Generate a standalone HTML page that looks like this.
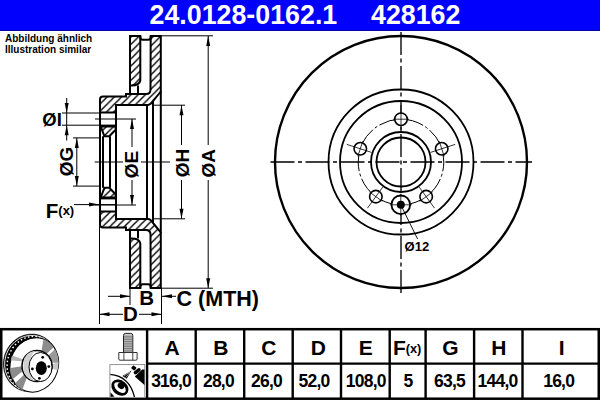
<!DOCTYPE html>
<html><head><meta charset="utf-8"><style>
html,body{margin:0;padding:0;background:#fff;}
#wrap{position:relative;width:600px;height:400px;overflow:hidden;background:#fff;}
#banner{position:absolute;left:0;top:0;width:600px;height:30px;background:#0000fc;border-bottom:1px solid #0000a8;}
.bt{position:absolute;top:1.3px;font-family:"Liberation Sans",sans-serif;font-weight:bold;color:#fff;font-size:26.8px;line-height:29px;white-space:nowrap;}
svg{position:absolute;left:0;top:0;}
</style></head><body><div id="wrap">
<div id="banner"></div>
<div class="bt" style="left:149.5px">24.0128-0162.1</div>
<div class="bt" style="left:371px">428162</div>
<svg width="600" height="400" viewBox="0 0 600 400">
<defs>
<pattern id="hatchA" patternUnits="userSpaceOnUse" width="7.2" height="7.2" patternTransform="translate(2.5,0)">
<path d="M-2,9.2 L9.2,-2" stroke="#000" stroke-width="1.4"/>
<path d="M-2,2 L2,-2 M5.2,9.2 L9.2,5.2" stroke="#000" stroke-width="1.4"/>
</pattern>
<pattern id="hatchB" patternUnits="userSpaceOnUse" width="7.2" height="7.2" patternTransform="translate(5.4,0)">
<path d="M-2,-2 L9.2,9.2" stroke="#000" stroke-width="1.4"/>
<path d="M5.2,-2 L9.2,2 M-2,5.2 L2,9.2" stroke="#000" stroke-width="1.4"/>
</pattern>
</defs>
<g><path d="M130,36 H140.3 V80.5 Q139.5,85.4 131.5,85.4 H130 Z" fill="url(#hatchA)" stroke="#000" stroke-width="2.0"/><path d="M130,85.4 V94 M138,85.4 V94" fill="none" stroke="#000" stroke-width="2.0"/><path d="M140.3,36 V37.3 Q140.3,39.8 142.8,39.8 H148.2 Q150.7,39.8 150.7,37.3 V36" fill="none" stroke="#000" stroke-width="2.0"/><path d="M150.7,36 H160.8 V91.5 Q158,95 153,101 Q150.5,104.9 148,104.9 H116 V112.5 H100 V99.5 Q100,96.5 103,96.5 H126 V94 H146 Q150.5,94 150.5,89.5 Z" fill="url(#hatchA)" stroke="#000" stroke-width="2.0"/><path d="M160.8,91 V162 M147,104.9 V162 M153,101 V162" fill="none" stroke="#000" stroke-width="2.0"/><path d="M116,104.9 V162 M100,99 V162" fill="none" stroke="#000" stroke-width="2.0"/><path d="M100,125.6 H116" fill="none" stroke="#000" stroke-width="2.0"/><path d="M100.8,126.6 H115.6 V129.8 L109.3,136.3 H104.4 Z" fill="url(#hatchA)" stroke="#000" stroke-width="2.0"/><path d="M103,136.3 V162 M110,136.3 V162" fill="none" stroke="#000" stroke-width="2.0"/></g><g transform="matrix(1,0,0,-1,0,324.0)"><path d="M130,36 H140.3 V80.5 Q139.5,85.4 131.5,85.4 H130 Z" fill="url(#hatchB)" stroke="#000" stroke-width="2.0"/><path d="M130,85.4 V94 M138,85.4 V94" fill="none" stroke="#000" stroke-width="2.0"/><path d="M140.3,36 V37.3 Q140.3,39.8 142.8,39.8 H148.2 Q150.7,39.8 150.7,37.3 V36" fill="none" stroke="#000" stroke-width="2.0"/><path d="M150.7,36 H160.8 V91.5 Q158,95 153,101 Q150.5,104.9 148,104.9 H116 V112.5 H100 V99.5 Q100,96.5 103,96.5 H126 V94 H146 Q150.5,94 150.5,89.5 Z" fill="url(#hatchB)" stroke="#000" stroke-width="2.0"/><path d="M160.8,91 V162 M147,104.9 V162 M153,101 V162" fill="none" stroke="#000" stroke-width="2.0"/><path d="M116,104.9 V162 M100,99 V162" fill="none" stroke="#000" stroke-width="2.0"/><path d="M100,125.6 H116" fill="none" stroke="#000" stroke-width="2.0"/><path d="M100.8,126.6 H115.6 V129.8 L109.3,136.3 H104.4 Z" fill="url(#hatchB)" stroke="#000" stroke-width="2.0"/><path d="M103,136.3 V162 M110,136.3 V162" fill="none" stroke="#000" stroke-width="2.0"/></g><path d="M161,35.8 H213 M161,288.2 H213" stroke="#000" stroke-width="1.0" fill="none"/><path d="M208.2,36 V145 M208.2,180 V288" stroke="#000" stroke-width="1.0" fill="none"/><polygon points="208.2,36 206.2,46 210.2,46" fill="#000"/><polygon points="208.2,288.2 206.2,278.2 210.2,278.2" fill="#000"/><path d="M153,105.2 H185 M153,218.8 H185" stroke="#000" stroke-width="1.0" fill="none"/><path d="M181.5,105.2 V145 M181.5,180 V218.8" stroke="#000" stroke-width="1.0" fill="none"/><polygon points="181.5,105.2 179.5,115.2 183.5,115.2" fill="#000"/><polygon points="181.5,218.8 179.5,208.8 183.5,208.8" fill="#000"/><path d="M95,119 H136 M95,205.0 H136" stroke="#000" stroke-width="1.0" fill="none"/><path d="M132,119 V147 M132,180 V205.0" stroke="#000" stroke-width="1.0" fill="none"/><polygon points="132,119 130.0,129 134.0,129" fill="#000"/><polygon points="132,205.0 130.0,195.0 134.0,195.0" fill="#000"/><path d="M73,137.9 H99 M73,186.1 H99" stroke="#000" stroke-width="1.0" fill="none"/><path d="M76.8,137.9 V186.1" stroke="#000" stroke-width="1.0" fill="none"/><polygon points="76.8,137.9 74.8,147.9 78.8,147.9" fill="#000"/><polygon points="76.8,186.1 74.8,176.1 78.8,176.1" fill="#000"/><path d="M62,113 H99 M62,125.2 H99" stroke="#000" stroke-width="1.0" fill="none"/><path d="M66.7,98 V140.5" stroke="#000" stroke-width="1.0" fill="none"/><polygon points="66.7,113 64.7,103 68.7,103" fill="#000"/><polygon points="66.7,125.2 64.7,135.2 68.7,135.2" fill="#000"/><path d="M74,204.6 H116" stroke="#000" stroke-width="1.0" fill="none"/><polygon points="99,204.6 89,202.6 89,206.6" fill="#000"/><path d="M94.7,162 H124 M141,162 H170" stroke="#000" stroke-width="1.0" fill="none"/><path d="M99.5,226 V324 M161.5,288 V324 M130,288 V305" stroke="#000" stroke-width="1.0" fill="none"/><path d="M99.5,314.3 H123 M139,314.3 H161.5" stroke="#000" stroke-width="1.0" fill="none"/><polygon points="99.5,314.3 109.5,312.3 109.5,316.3" fill="#000"/><polygon points="161.5,314.3 151.5,312.3 151.5,316.3" fill="#000"/><path d="M108,296.3 H130" stroke="#000" stroke-width="1.0" fill="none"/><polygon points="130,296.3 120,294.3 120,298.3" fill="#000"/><path d="M162,296.3 H176" stroke="#000" stroke-width="1.0" fill="none"/><polygon points="162,296.3 172,294.3 172,298.3" fill="#000"/><g font-family="Liberation Sans, sans-serif" font-weight="bold" fill="#000"><rect x="123" y="147" width="17" height="33" fill="#fff"/><rect x="173" y="145" width="17" height="35" fill="#fff"/><rect x="200" y="145" width="17" height="35" fill="#fff"/><text x="137.902" y="164.6" font-size="19" text-anchor="middle" transform="rotate(-90,137.902,164.6)">ØE</text><text x="188.50199999999998" y="163" font-size="19" text-anchor="middle" transform="rotate(-90,188.50199999999998,163)">ØH</text><text x="215.302" y="163.2" font-size="19" text-anchor="middle" transform="rotate(-90,215.302,163.2)">ØA</text><text x="72.602" y="161.5" font-size="19" text-anchor="middle" transform="rotate(-90,72.602,161.5)">ØG</text><text x="42.3" y="125.7" font-size="18.5" text-anchor="start">ØI</text><text x="45.8" y="217.6" font-size="20.5" text-anchor="start">F</text><text x="58.3" y="215.2" font-size="13" text-anchor="start">(x)</text><text x="123" y="320.6" font-size="20.5" text-anchor="start">D</text><text x="139.2" y="305" font-size="20.5" text-anchor="start">B</text><text x="176.6" y="305.8" font-size="21.5" text-anchor="start">C (MTH)</text><text x="404.6" y="251.3" font-size="13" text-anchor="start">Ø12</text><text x="5" y="41.7" font-size="10" text-anchor="start">Abbildung ähnlich</text><text x="5" y="52.6" font-size="10" text-anchor="start">Illustration similar</text></g><circle cx="401" cy="162" r="126" fill="none" stroke="#000" stroke-width="2.4"/><circle cx="401" cy="162" r="72.5" fill="none" stroke="#000" stroke-width="1.8"/><circle cx="401" cy="162" r="61" fill="none" stroke="#000" stroke-width="1.8"/><circle cx="401" cy="162" r="30" fill="none" stroke="#000" stroke-width="1.8"/><circle cx="401" cy="162" r="24.5" fill="none" stroke="#000" stroke-width="1.8"/><circle cx="401" cy="162" r="42.8" fill="none" stroke="#000" stroke-width="1" stroke-dasharray="45.78,2.5,3,2.5" stroke-dashoffset="-17.45"/><path d="M270.5,162 H532" stroke="#000" stroke-width="1.35" stroke-dasharray="24,3.5,4,3.5" fill="none"/><path d="M401,32 V293" stroke="#000" stroke-width="1.35" stroke-dasharray="23,3.5,4,3.5" fill="none"/><circle cx="401.00" cy="119.20" r="6.25" fill="#fff" stroke="#000" stroke-width="1.6"/><path d="M401.00,131.00 L401.00,105.00" stroke="#000" stroke-width="0.8"/><path d="M393.00,119.20 L409.00,119.20" stroke="#000" stroke-width="0.8"/><circle cx="441.71" cy="148.77" r="6.25" fill="#fff" stroke="#000" stroke-width="1.6"/><path d="M430.48,152.42 L455.21,144.39" stroke="#000" stroke-width="0.8"/><path d="M439.23,141.17 L444.18,156.38" stroke="#000" stroke-width="0.8"/><circle cx="360.29" cy="148.77" r="6.25" fill="#fff" stroke="#000" stroke-width="1.6"/><path d="M371.52,152.42 L346.79,144.39" stroke="#000" stroke-width="0.8"/><path d="M357.82,156.38 L362.77,141.17" stroke="#000" stroke-width="0.8"/><circle cx="375.84" cy="196.63" r="6.25" fill="#fff" stroke="#000" stroke-width="1.6"/><path d="M382.78,187.08 L367.50,208.11" stroke="#000" stroke-width="0.8"/><path d="M382.31,201.33 L369.37,191.92" stroke="#000" stroke-width="0.8"/><circle cx="426.16" cy="196.63" r="6.25" fill="#fff" stroke="#000" stroke-width="1.6"/><path d="M419.22,187.08 L434.50,208.11" stroke="#000" stroke-width="0.8"/><path d="M432.63,191.92 L419.69,201.33" stroke="#000" stroke-width="0.8"/><circle cx="400.8" cy="204.8" r="9.3" fill="#fff" stroke="#000" stroke-width="1.8"/><circle cx="400.8" cy="204.8" r="4" fill="#000"/><path d="M389.8,204.8 H411.8 M400.8,193.8 V215.8" stroke="#000" stroke-width="0.8"/><path d="M400.8,204.8 L417.6,239" stroke="#000" stroke-width="0.9"/><rect x="1.25" y="329.2" width="597.5" height="69.5" fill="none" stroke="#000" stroke-width="2.5"/><path d="M147.1,329 V398" stroke="#000" stroke-width="2.4"/><path d="M195.7,329 V398" stroke="#000" stroke-width="2.4"/><path d="M244.2,329 V398" stroke="#000" stroke-width="2.4"/><path d="M292.7,329 V398" stroke="#000" stroke-width="2.4"/><path d="M341,329 V398" stroke="#000" stroke-width="2.4"/><path d="M389.7,329 V398" stroke="#000" stroke-width="2.4"/><path d="M425.6,329 V398" stroke="#000" stroke-width="2.4"/><path d="M474.1,329 V398" stroke="#000" stroke-width="2.4"/><path d="M522.5,329 V398" stroke="#000" stroke-width="2.4"/><path d="M147,363.7 H599" stroke="#000" stroke-width="2.2"/><g font-family="Liberation Sans, sans-serif" font-weight="bold" fill="#000"><text x="172.2" y="354.7" font-size="21" text-anchor="middle">A</text><text x="171.09999999999997" y="386.6" font-size="17.5" letter-spacing="-0.8" text-anchor="middle">316,0</text><text x="220.95" y="354.7" font-size="21" text-anchor="middle">B</text><text x="218.39999999999998" y="386.6" font-size="17.5" letter-spacing="-0.8" text-anchor="middle">28,0</text><text x="268.95" y="354.7" font-size="21" text-anchor="middle">C</text><text x="266.54999999999995" y="386.6" font-size="17.5" letter-spacing="-0.8" text-anchor="middle">26,0</text><text x="318.35" y="354.7" font-size="21" text-anchor="middle">D</text><text x="314.05" y="386.6" font-size="17.5" letter-spacing="-0.8" text-anchor="middle">52,0</text><text x="365.85" y="354.7" font-size="21" text-anchor="middle">E</text><text x="365.75" y="386.6" font-size="17.5" letter-spacing="-0.8" text-anchor="middle">108,0</text><text x="407.15" y="354.7" font-size="21" text-anchor="middle"><tspan>F</tspan><tspan font-size="12.8" dy="-1.5">(x)</tspan></text><text x="407.95" y="386.6" font-size="17.5" letter-spacing="-0.8" text-anchor="middle">5</text><text x="450.35" y="354.7" font-size="21" text-anchor="middle">G</text><text x="449.55" y="386.6" font-size="17.5" letter-spacing="-0.8" text-anchor="middle">63,5</text><text x="498.8" y="354.7" font-size="21" text-anchor="middle">H</text><text x="497.5" y="386.6" font-size="17.5" letter-spacing="-0.8" text-anchor="middle">144,0</text><text x="561.75" y="354.7" font-size="21" text-anchor="middle">I</text><text x="558.6500000000001" y="386.6" font-size="17.5" letter-spacing="-0.8" text-anchor="middle">16,0</text></g><defs><clipPath id="faceclip"><ellipse cx="34.3" cy="364.9" rx="24" ry="27.5" transform="rotate(18,34,364.6)"/></clipPath></defs><ellipse cx="30.6" cy="362.9" rx="27" ry="29" transform="rotate(18,30.6,362.9)" fill="#000" stroke="#000" stroke-width="0.6"/><ellipse cx="30.7" cy="363" rx="25.9" ry="27.9" transform="rotate(18,30.7,363)" fill="none" stroke="#fff" stroke-width="0.8"/><ellipse cx="32.2" cy="363.8" rx="24.8" ry="27.7" transform="rotate(18,32.2,363.8)" fill="none" stroke="#fff" stroke-width="1.4" stroke-dasharray="1.6,2.2"/><ellipse cx="34.3" cy="364.9" rx="24" ry="27.5" transform="rotate(18,34.3,364.9)" fill="#fff" stroke="#000" stroke-width="1"/><g clip-path="url(#faceclip)"><path d="M30,365 L4,369 L7,384 Z" fill="#8c8c8c"/><path d="M30,362 L6,353 L6,360 Z" fill="#b5b5b5"/><path d="M30,369 L9,389 L20,396 Z" fill="#8c8c8c"/><path d="M40,360 L44,336 L56,345 Z" fill="#8c8c8c"/><path d="M42,362 L56,348 L60,363 Z" fill="#9a9a9a"/><path d="M44,366 L60,362 L60,371 Z" fill="#c8c8c8"/></g><ellipse cx="37" cy="366" rx="15" ry="15.6" fill="#fff" stroke="#000" stroke-width="1.5"/><path d="M23.5,362 Q25,352 35,350.8 Q30,356 29.3,366 Q29.5,376 35,381.3 Q25,379 23.5,370 Z" fill="#cfcfcf"/><ellipse cx="40.5" cy="367" rx="11.5" ry="14.5" fill="#fff" stroke="#000" stroke-width="1"/><ellipse cx="41.3" cy="368.2" rx="5.5" ry="6.9" fill="#000"/><circle cx="42.7" cy="357.3" r="1.4" fill="#000"/><circle cx="48.8" cy="366.6" r="1.4" fill="#000"/><circle cx="39.4" cy="378.3" r="1.4" fill="#000"/><circle cx="32.4" cy="369" r="1.4" fill="#000"/><path d="M123.5,352.5 V335.5 Q123.5,333.4 125.5,333.4 H130.8 Q132.8,333.4 132.8,335.5 V352.5" fill="#d0d0d0" stroke="#222" stroke-width="1"/><path d="M124,336.20 H132.3" stroke="#555" stroke-width="0.75"/><path d="M124,337.95 H132.3" stroke="#555" stroke-width="0.75"/><path d="M124,339.70 H132.3" stroke="#555" stroke-width="0.75"/><path d="M124,341.45 H132.3" stroke="#555" stroke-width="0.75"/><path d="M124,343.20 H132.3" stroke="#555" stroke-width="0.75"/><path d="M124,344.95 H132.3" stroke="#555" stroke-width="0.75"/><path d="M124,346.70 H132.3" stroke="#555" stroke-width="0.75"/><path d="M124,348.45 H132.3" stroke="#555" stroke-width="0.75"/><path d="M124,350.20 H132.3" stroke="#555" stroke-width="0.75"/><path d="M124,351.95 H132.3" stroke="#555" stroke-width="0.75"/><path d="M118.8,352.5 H137.1 V359 Q137.1,360.2 136,360.2 H120 Q118.8,360.2 118.8,359 Z" fill="#fff" stroke="#333" stroke-width="1"/><path d="M123.9,352.5 V360.2 M132.8,352.5 V360.2" stroke="#333" stroke-width="0.9"/><rect x="109.9" y="364.6" width="34.9" height="33" fill="#fff" stroke="#888" stroke-width="0.9"/><defs><clipPath id="sprayclip"><rect x="110.3" y="365" width="34.2" height="32"/></clipPath></defs><g clip-path="url(#sprayclip)"><polygon points="134.8,376.6 142.2,369.4 145.5,369.4 145.5,386" fill="#000"/><rect x="133.2" y="369.4" width="8" height="3.6" rx="1.8" transform="rotate(-38,137.2,371.2)" fill="#000"/><rect x="131.7" y="366.1" width="4.3" height="3.7" rx="0.9" transform="rotate(38,133.85,367.95)" fill="#000"/><polygon points="131.6,370.4 122.4,376 126.6,378.8" fill="#000"/><path d="M130,371.6 L123.8,376.2 M130.3,372 L125.6,377.6" stroke="#fff" stroke-width="0.6"/><path d="M109.8,374.3 Q130,376 134.7,398" fill="none" stroke="#000" stroke-width="1.3"/><ellipse cx="119.7" cy="387.8" rx="8.1" ry="5.8" transform="rotate(40,119.7,387.8)" fill="none" stroke="#000" stroke-width="2.4"/><ellipse cx="120.4" cy="387.2" rx="8.1" ry="5.6" transform="rotate(40,120.4,387.2)" fill="none" stroke="#000" stroke-width="1.9"/><ellipse cx="121.1" cy="385.8" rx="3.6" ry="3" transform="rotate(35,121.1,385.8)" fill="#000"/><polygon points="110.3,392.3 114.5,396.5 110.3,397" fill="#000"/></g>
</svg>
</div></body></html>
